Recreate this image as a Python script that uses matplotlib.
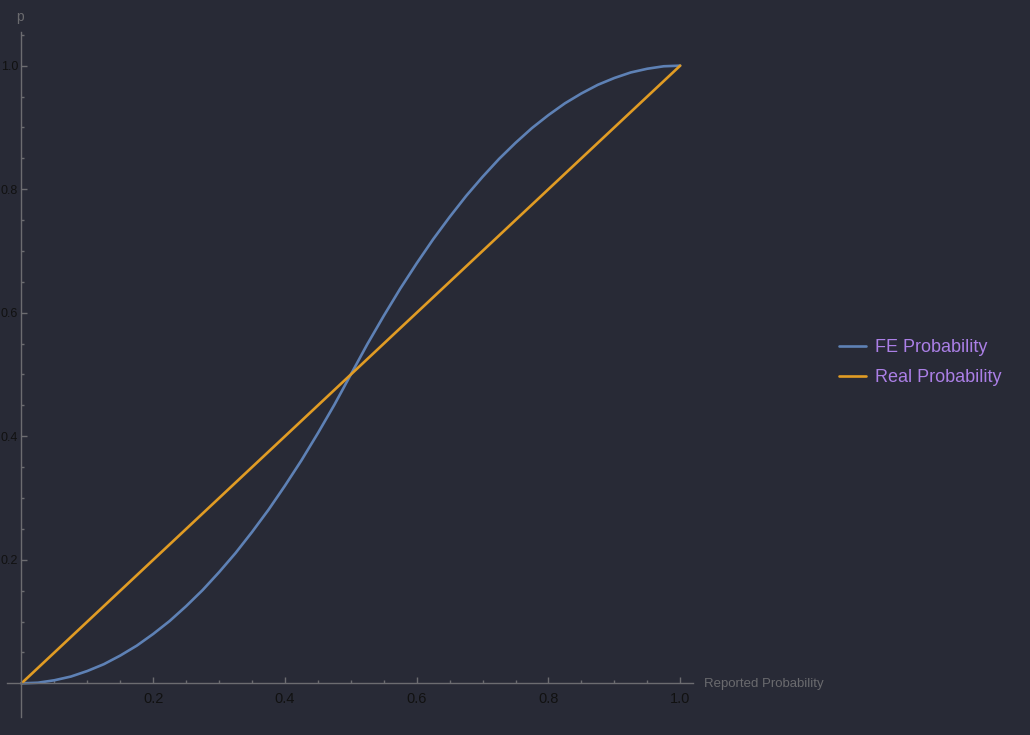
import numpy as np
import matplotlib.pyplot as plt
from matplotlib.ticker import FixedLocator

# values
reported = [0.0, 0.025, 0.05, 0.075, 0.1, 0.125, 0.15, 0.175, 0.2, 0.225, 0.25, 0.275,
            0.3, 0.325, 0.35, 0.375, 0.4, 0.425, 0.45, 0.475, 0.5, 0.525, 0.55, 0.575,
            0.6, 0.625, 0.65, 0.675, 0.7, 0.725, 0.75, 0.775, 0.8, 0.825, 0.85, 0.875,
            0.9, 0.925, 0.95, 0.975, 1.0]
fe_prob = [0.0, 0.001, 0.005, 0.011, 0.02, 0.031, 0.045, 0.061, 0.08, 0.101, 0.125, 0.151,
           0.18, 0.211, 0.245, 0.281, 0.32, 0.361, 0.405, 0.451, 0.5, 0.549, 0.595, 0.639,
           0.68, 0.719, 0.755, 0.789, 0.82, 0.849, 0.875, 0.899, 0.92, 0.939, 0.955, 0.969,
           0.98, 0.989, 0.995, 0.999, 1.0]
real_x = [0.0, 1.0]
real_prob = [0.0, 1.0]

x_ticks = [0.2, 0.4, 0.6, 0.8, 1.0]
y_ticks = [0.2, 0.4, 0.6, 0.8, 1.0]
tick_labels = ['0.2', '0.4', '0.6', '0.8', '1.0']

bg = '#282a36'
axcol = '#6c6c70'

plt.rcParams['font.family'] = ['Liberation Sans', 'DejaVu Sans']

fig = plt.figure(figsize=(10.3, 7.35), dpi=100, facecolor=bg)
ax = fig.add_axes([7 / 1030, (735 - 716.7) / 735, (692.7 - 7) / 1030, (716.7 - 32.3) / 735])
ax.set_facecolor(bg)

ax.plot(reported, fe_prob, color='#5e81b5', lw=1.9, label='FE Probability', solid_capstyle='round')
ax.plot(real_x, real_prob, color='#e19c24', lw=1.9, label='Real Probability', solid_capstyle='round')

ax.set_xlim(-0.022, 1.019)
ax.set_ylim(-0.054, 1.054)

for s in ['top', 'right']:
    ax.spines[s].set_visible(False)
for s in ['left', 'bottom']:
    ax.spines[s].set_position('zero')
    ax.spines[s].set_color(axcol)
    ax.spines[s].set_linewidth(1.0)

ax.xaxis.set_major_locator(FixedLocator(x_ticks))
ax.yaxis.set_major_locator(FixedLocator(y_ticks))
ax.xaxis.set_minor_locator(FixedLocator([v for v in np.arange(0.05, 1.01, 0.05) if round(v, 2) not in x_ticks]))
ax.yaxis.set_minor_locator(FixedLocator([v for v in np.arange(0.05, 1.06, 0.05) if round(v, 2) not in y_ticks]))
ax.set_xticklabels(tick_labels)
ax.set_yticklabels(tick_labels)
ax.tick_params(which='major', direction='in', length=4.5, width=1, color=axcol)
ax.tick_params(axis='x', which='major', labelcolor='#111111', labelsize=10.5, pad=6)
ax.tick_params(axis='y', which='major', labelcolor='#111111', labelsize=9, pad=2.5)
ax.tick_params(which='minor', direction='in', length=2.5, width=1, color=axcol)

fig.text(704 / 1030, 1 - 684 / 735, 'Reported Probability', color='#6a6a6e', fontsize=9.5,
         va='center', ha='left')
fig.text(20 / 1030, 1 - 17 / 735, 'p', color='#6a6a6e', fontsize=10, va='center', ha='center')

fig.legend(loc='center left', bbox_to_anchor=(823 / 1030, 1 - 363 / 735), frameon=False,
           labelcolor='#ab7fe6', fontsize=13, handlelength=1.5, handletextpad=0.5,
           labelspacing=0.72)

fig.savefig('out.png', dpi=100, facecolor=bg)
